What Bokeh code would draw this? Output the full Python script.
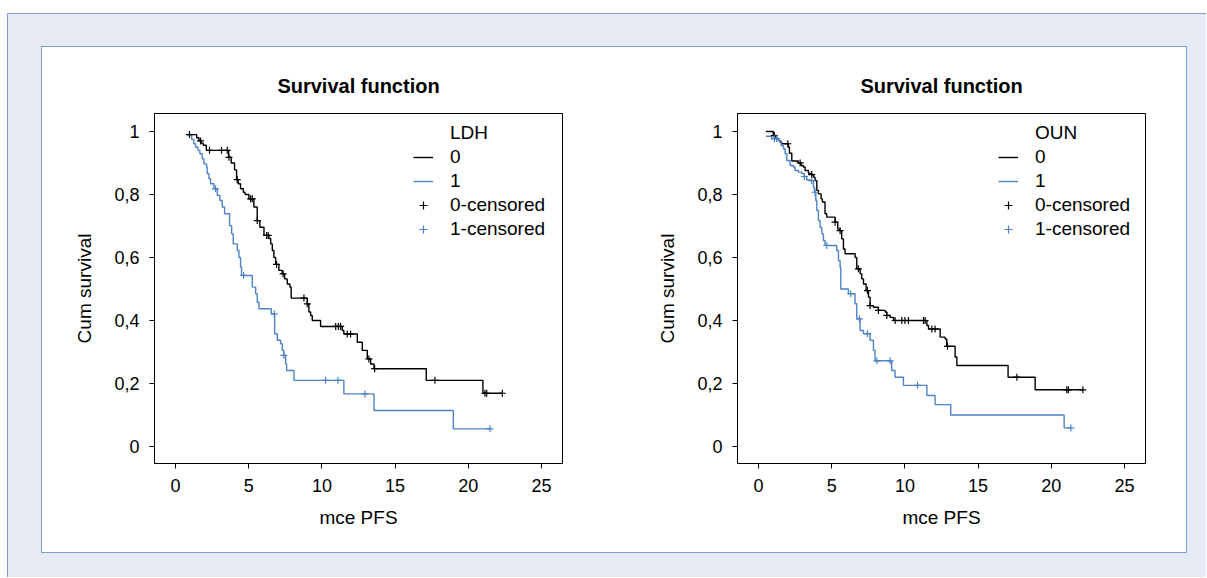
import numpy as np
from bokeh.plotting import figure
from bokeh.layouts import row, column
from bokeh.models import Legend, LegendItem, FixedTicker
from bokeh.embed import file_html
from bokeh.resources import INLINE

# ---------------- data ----------------
ldh0_time = [0.8, 1.44, 1.6, 1.75, 1.89, 2.1, 3.62, 3.8, 4.03, 4.17, 4.28, 4.44, 4.63, 4.75,
             5.01, 5.35, 5.58, 5.76, 6.04, 6.38, 6.5, 6.61, 6.72, 6.84, 7.06, 7.29, 7.45,
             7.63, 7.81, 7.9, 9.0, 9.11, 9.23, 9.34, 9.91, 11.39, 11.5, 12.42, 12.76, 13.1,
             13.33, 13.56, 17.13, 21.0, 22.33]
ldh0_surv = [0.99, 0.98, 0.97, 0.963, 0.956, 0.94, 0.918, 0.9, 0.878, 0.847, 0.834, 0.818,
             0.807, 0.80, 0.786, 0.76, 0.717, 0.696, 0.67, 0.66, 0.643, 0.622, 0.60, 0.578,
             0.559, 0.548, 0.532, 0.516, 0.506, 0.471, 0.453, 0.427, 0.416, 0.40, 0.381,
             0.368, 0.357, 0.331, 0.305, 0.278, 0.262, 0.247, 0.21, 0.169, 0.169]
ldh0_cens = [0.95, 1.71, 2.32, 3.14, 3.53, 3.65, 4.21, 5.13, 5.24, 5.58, 6.22, 6.33, 6.9,
             7.35, 8.77, 9.0, 10.94, 11.12, 11.28, 11.73, 11.96, 13.21, 13.6, 17.72, 21.14,
             21.26, 22.33]

ldh1_time = [0.9, 1.1, 1.25, 1.37, 1.53, 1.66, 1.82, 1.94, 2.12, 2.16, 2.28, 2.39, 2.62, 2.85,
             3.03, 3.19, 3.35, 3.69, 3.83, 3.94, 4.22, 4.33, 4.44, 4.51, 5.24, 5.47, 5.58,
             5.70, 6.54, 6.77, 6.95, 7.18, 7.29, 7.40, 7.52, 7.59, 8.09, 11.5, 13.56, 18.98,
             21.49]
ldh1_surv = [0.99, 0.975, 0.961, 0.95, 0.94, 0.929, 0.913, 0.897, 0.887, 0.866, 0.85, 0.834,
             0.818, 0.797, 0.781, 0.76, 0.739, 0.701, 0.675, 0.643, 0.622, 0.60, 0.569,
             0.543, 0.506, 0.485, 0.458, 0.437, 0.421, 0.358, 0.337, 0.326, 0.305, 0.289,
             0.262, 0.241, 0.21, 0.167, 0.114, 0.056, 0.056]
ldh1_cens = [2.73, 4.65, 6.74, 7.40, 10.25, 11.1, 12.94, 21.49]

oun0_time = [0.5, 1.01, 1.13, 1.24, 1.36, 1.47, 1.58, 2.04, 2.11, 2.27, 2.72, 2.9, 3.06, 3.18,
             3.41, 3.63, 3.75, 3.86, 3.98, 4.09, 4.27, 4.36, 4.54, 4.66, 5.23, 5.41, 5.57,
             5.68, 5.8, 5.91, 6.6, 6.71, 6.94, 7.05, 7.17, 7.35, 7.51, 7.62, 7.85, 8.19,
             8.65, 8.76, 8.99, 9.22, 11.5, 11.61, 12.41, 12.75, 12.86, 13.43, 13.55, 17.05,
             18.9, 22.2]
oun0_surv = [1.0, 0.987, 0.982, 0.977, 0.971, 0.966, 0.961, 0.95, 0.931, 0.906, 0.9, 0.892,
             0.887, 0.876, 0.867, 0.863, 0.855, 0.844, 0.813, 0.802, 0.786, 0.776, 0.739,
             0.728, 0.712, 0.69, 0.685, 0.659, 0.627, 0.612, 0.6, 0.564, 0.548, 0.532, 0.516,
             0.495, 0.474, 0.447, 0.442, 0.432, 0.427, 0.416, 0.41, 0.4, 0.384, 0.373, 0.347,
             0.341, 0.318, 0.284, 0.257, 0.22, 0.18, 0.18]
oun0_cens = [1.08, 2.0, 2.84, 3.63, 5.23, 5.57, 6.82, 7.44, 7.62, 8.19, 8.76, 9.33, 9.79,
             10.0, 10.24, 11.27, 11.38, 11.84, 12.06, 12.91, 17.65, 21.06, 21.17, 22.16]

oun1_time = [0.5, 0.9, 1.36, 1.54, 1.7, 1.81, 1.93, 2.15, 2.38, 2.49, 2.72, 2.95, 3.13, 3.29,
             3.52, 3.75, 3.82, 3.91, 3.98, 4.09, 4.2, 4.32, 4.43, 4.54, 5.34, 5.46, 5.57,
             5.62, 6.14, 6.59, 6.71, 6.94, 7.17, 7.62, 7.85, 7.96, 9.1, 9.33, 9.9, 11.5,
             12.06, 13.13, 20.88, 21.34]
oun1_surv = [0.985, 0.977, 0.971, 0.955, 0.945, 0.929, 0.908, 0.892, 0.887, 0.876, 0.871,
             0.866, 0.857, 0.846, 0.844, 0.823, 0.807, 0.781, 0.749, 0.717, 0.696, 0.675,
             0.654, 0.638, 0.622, 0.59, 0.569, 0.5, 0.485, 0.453, 0.405, 0.368, 0.358, 0.337,
             0.305, 0.272, 0.241, 0.22, 0.194, 0.162, 0.133, 0.1, 0.059, 0.059]
oun1_cens = [1.08, 1.24, 3.13, 3.63, 3.86, 4.66, 6.3, 6.89, 7.44, 8.08, 8.99, 10.86, 21.34]

x_ticks = [0, 5, 10, 15, 20, 25]
y_ticks = [0, 0.2, 0.4, 0.6, 0.8, 1.0]
y_tick_labels = ["0", "0,2", "0,4", "0,6", "0,8", "1"]

title_text = "Survival function"
x_label = "mce PFS"
y_label = "Cum survival"
group_labels = ["0", "1", "0-censored", "1-censored"]

BLACK = "#000000"
BLUE = "#4f83c6"
FONT = "Liberation Sans"


def level_at(times, surv, t):
    idx = np.searchsorted(np.asarray(times), np.asarray(t), side="right") - 1
    idx = np.clip(idx, 0, len(surv) - 1)
    return list(np.asarray(surv)[idx])


def make_plot(var_name, t0, s0, c0, t1, s1, c1, mb_left, mb_right, leg_x):
    p = figure(width=572, height=505, x_range=(-1.44, 26.44), y_range=(-0.054, 1.057),
               output_backend="svg", toolbar_location=None,
               min_border_left=mb_left, min_border_right=mb_right,
               min_border_top=66, min_border_bottom=89)
    p.background_fill_color = "white"
    p.border_fill_color = "white"
    p.outline_line_color = "black"
    p.outline_line_width = 1
    p.grid.visible = False

    p.title.text = title_text
    p.title.align = "center"
    p.title.text_font = FONT
    p.title.text_font_size = "20px"
    p.title.text_font_style = "bold"
    p.title.text_color = "black"
    p.title.standoff = 34

    for ax in (p.xaxis[0], p.yaxis[0]):
        ax.axis_line_color = "black"
        ax.major_tick_line_color = "black"
        ax.major_tick_out = 5
        ax.major_tick_in = 0
        ax.minor_tick_line_color = None
        ax.major_label_text_font = FONT
        ax.major_label_text_font_size = "18px"
        ax.major_label_text_color = "black"
        ax.axis_label_text_font = FONT
        ax.axis_label_text_font_size = "19px"
        ax.axis_label_text_font_style = "normal"
        ax.axis_label_text_color = "black"
        ax.major_label_standoff = 10

    p.xaxis.ticker = FixedTicker(ticks=x_ticks)
    p.yaxis.ticker = FixedTicker(ticks=y_ticks)
    p.yaxis.major_label_overrides = {v: lab for v, lab in zip(y_ticks, y_tick_labels)}
    p.xaxis.axis_label = x_label
    p.yaxis.axis_label = y_label
    p.xaxis.axis_label_standoff = 12
    p.yaxis.axis_label_standoff = 16

    r0 = p.step(t0, s0, mode="after", line_color=BLACK, line_width=1.4)
    r1 = p.step(t1, s1, mode="after", line_color=BLUE, line_width=1.4)
    rc0 = p.scatter(c0, level_at(t0, s0, c0), marker="cross", size=7,
                    line_color=BLACK, line_width=1.2)
    rc1 = p.scatter(c1, level_at(t1, s1, c1), marker="cross", size=7,
                    line_color=BLUE, line_width=1.2)
    # invisible renderer so that the legend header lines up with the labels
    hdr = p.step(t0, s0, mode="after", line_alpha=0)

    items = [LegendItem(label=var_name, renderers=[hdr]),
             LegendItem(label=group_labels[0], renderers=[r0]),
             LegendItem(label=group_labels[1], renderers=[r1]),
             LegendItem(label=group_labels[2], renderers=[rc0]),
             LegendItem(label=group_labels[3], renderers=[rc1])]
    leg = Legend(items=items, location=(leg_x, 223), margin=0, padding=0, spacing=2,
                 glyph_width=20, glyph_height=22, label_height=22, label_standoff=17,
                 label_text_font=FONT, label_text_font_size="19px",
                 label_text_color="black", background_fill_alpha=0,
                 border_line_color=None)
    p.add_layout(leg)
    return p


p1 = make_plot("LDH", ldh0_time, ldh0_surv, ldh0_cens, ldh1_time, ldh1_surv, ldh1_cens,
               112, 52, 259)
p2 = make_plot("OUN", oun0_time, oun0_surv, oun0_cens, oun1_time, oun1_surv, oun1_cens,
               123, 41, 261)

inner = row(p1, p2, margin=(34, 0, 0, 35),
            styles={"background-color": "white", "outline": "1px solid #7fa0d3"})
outer = column(inner, width=1199, height=564, margin=(13, 0, 0, 7),
               styles={"background-color": "#e6eaf5",
                       "box-shadow": "inset 1px 1px 0 0 #7fa0d3"})

open("out.html", "w").write(file_html(outer, INLINE))
